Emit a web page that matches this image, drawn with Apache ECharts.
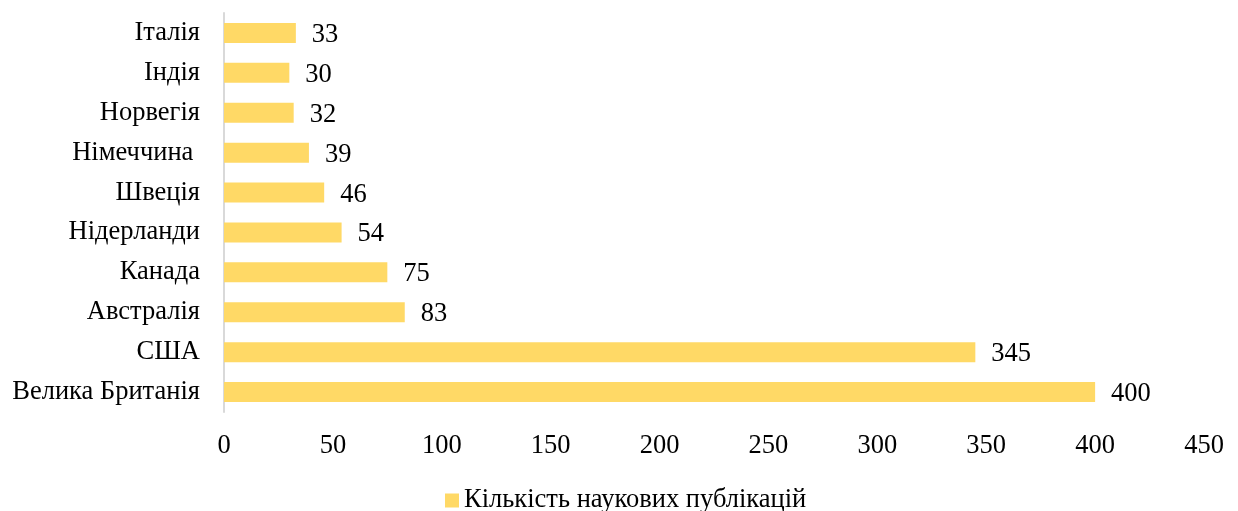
<!DOCTYPE html>
<html>
<head>
<meta charset="utf-8">
<script src="https://cdn.jsdelivr.net/npm/echarts@6/dist/echarts.min.js"></script>
<style>
  html, body { margin: 0; padding: 0; background: #fff; }
  #chart { width: 1238px; height: 511px; }
</style>
</head>
<body>
<div id="chart"></div>
<script>
// bottom to top, as the category axis draws them
const countries = ['Велика Британія', 'США', 'Австралія', 'Канада', 'Нідерланди', 'Швеція', 'Німеччина ', 'Норвегія', 'Індія', 'Італія'];
const publications = [400, 345, 83, 75, 54, 46, 39, 32, 30, 33];
const seriesName = 'Кількість наукових публікацій';

const font = '"Liberation Serif", "Times New Roman", serif';
const fs = 26.5;
const chart = echarts.init(document.getElementById('chart'));

chart.setOption({
  animation: false,
  textStyle: { fontFamily: font },
  grid: {
    left: 224,
    right: 34,
    top: 13,
    bottom: 99,
    containLabel: false
  },
  legend: {
    data: [seriesName],
    top: 482,
    left: 440,
    icon: 'rect',
    itemWidth: 14,
    itemHeight: 14,
    itemGap: 4,
    textStyle: { fontFamily: font, fontSize: fs, color: '#000' }
  },
  xAxis: {
    type: 'value',
    min: 0,
    max: 450,
    interval: 50,
    axisLine: { show: false },
    axisTick: { show: false },
    splitLine: { show: false },
    axisLabel: { fontFamily: font, fontSize: fs, color: '#000', margin: 21 }
  },
  yAxis: {
    type: 'category',
    data: countries,
    axisLine: { show: true, lineStyle: { color: '#d9d9d9', width: 2 } },
    axisTick: { show: false },
    axisLabel: { fontFamily: font, fontSize: fs, color: '#000', margin: 24 }
  },
  series: [{
    name: seriesName,
    type: 'bar',
    data: publications,
    barWidth: 20,
    itemStyle: { color: '#ffd966' },
    label: {
      show: true,
      position: 'right',
      distance: 16,
      offset: [0, 2],
      fontFamily: font,
      fontSize: fs,
      color: '#000'
    }
  }]
});
</script>
</body>
</html>
